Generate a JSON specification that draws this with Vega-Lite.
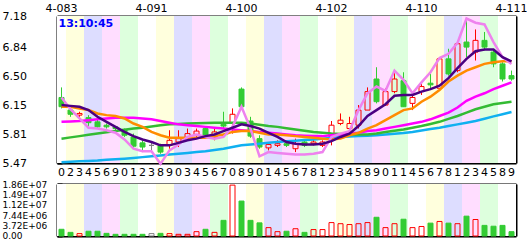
{
  "$schema": "https://vega.github.io/schema/vega-lite/v6.json",
  "background": "white",
  "padding": {"left": 2, "top": 2, "right": 0, "bottom": 0},
  "bounds": "flush",
  "spacing": 21,
  "config": {
    "font": "DejaVu Sans",
    "view": {"stroke": null},
    "axis": {"labelFont": "DejaVu Sans", "labelFontSize": 11, "labelColor": "#000000", "title": null, "zindex": 1}
  },
  "data": {"values": [
    {"d": "2002-08-30", "o": 6.25, "h": 6.37, "l": 6.12, "c": 6.14, "v": 2400000, "ma5": 6.16, "ma10": 6.14, "ma20": 5.96, "ma30": 5.76, "ma60": 5.48, "cmp": 6.25, "grp": 0},
    {"d": "2002-09-02", "o": 6.10, "h": 6.13, "l": 6.02, "c": 6.05, "v": 1300000, "ma5": 6.15, "ma10": 6.14, "ma20": 5.965, "ma30": 5.775, "ma60": 5.485, "cmp": 6.11, "grp": 1},
    {"d": "2002-09-03", "o": 6.04, "h": 6.08, "l": 6.01, "c": 6.06, "v": 850000, "ma5": 6.14, "ma10": 6.12, "ma20": 5.97, "ma30": 5.79, "ma60": 5.49, "cmp": 6.00, "grp": 1},
    {"d": "2002-09-04", "o": 6.01, "h": 6.04, "l": 5.90, "c": 5.95, "v": 1700000, "ma5": 6.10, "ma10": 6.10, "ma20": 5.98, "ma30": 5.805, "ma60": 5.495, "cmp": 5.89, "grp": 2},
    {"d": "2002-09-05", "o": 5.96, "h": 5.99, "l": 5.88, "c": 5.90, "v": 1700000, "ma5": 6.02, "ma10": 6.06, "ma20": 5.99, "ma30": 5.82, "ma60": 5.50, "cmp": 5.88, "grp": 2},
    {"d": "2002-09-06", "o": 5.92, "h": 5.94, "l": 5.88, "c": 5.90, "v": 950000, "ma5": 5.96, "ma10": 6.04, "ma20": 6.00, "ma30": 5.835, "ma60": 5.508, "cmp": 5.86, "grp": 3},
    {"d": "2002-09-09", "o": 5.90, "h": 5.91, "l": 5.86, "c": 5.88, "v": 600000, "ma5": 5.90, "ma10": 6.03, "ma20": 6.01, "ma30": 5.85, "ma60": 5.515, "cmp": 5.83, "grp": 3},
    {"d": "2002-09-10", "o": 5.87, "h": 5.88, "l": 5.78, "c": 5.80, "v": 600000, "ma5": 5.84, "ma10": 6.00, "ma20": 6.01, "ma30": 5.865, "ma60": 5.522, "cmp": 5.75, "grp": 4},
    {"d": "2002-09-11", "o": 5.78, "h": 5.82, "l": 5.64, "c": 5.67, "v": 600000, "ma5": 5.79, "ma10": 5.94, "ma20": 6.01, "ma30": 5.88, "ma60": 5.53, "cmp": 5.64, "grp": 4},
    {"d": "2002-09-12", "o": 5.71, "h": 5.74, "l": 5.60, "c": 5.66, "v": 600000, "ma5": 5.75, "ma10": 5.90, "ma20": 6.00, "ma30": 5.89, "ma60": 5.54, "cmp": 5.61, "grp": 0},
    {"d": "2002-09-13", "o": 5.68, "h": 5.72, "l": 5.62, "c": 5.68, "v": 850000, "ma5": 5.72, "ma10": 5.84, "ma20": 5.99, "ma30": 5.905, "ma60": 5.55, "cmp": 5.61, "grp": 0},
    {"d": "2002-09-18", "o": 5.68, "h": 5.70, "l": 5.58, "c": 5.60, "v": 950000, "ma5": 5.68, "ma10": 5.80, "ma20": 5.97, "ma30": 5.92, "ma60": 5.56, "cmp": 5.46, "grp": 1},
    {"d": "2002-09-19", "o": 5.68, "h": 5.86, "l": 5.64, "c": 5.74, "v": 850000, "ma5": 5.68, "ma10": 5.77, "ma20": 5.95, "ma30": 5.93, "ma60": 5.57, "cmp": 5.62, "grp": 1},
    {"d": "2002-09-20", "o": 5.72, "h": 5.86, "l": 5.66, "c": 5.76, "v": 600000, "ma5": 5.71, "ma10": 5.77, "ma20": 5.93, "ma30": 5.935, "ma60": 5.58, "cmp": 5.69, "grp": 2},
    {"d": "2002-09-23", "o": 5.77, "h": 5.88, "l": 5.74, "c": 5.82, "v": 600000, "ma5": 5.74, "ma10": 5.77, "ma20": 5.92, "ma30": 5.94, "ma60": 5.59, "cmp": 5.78, "grp": 2},
    {"d": "2002-09-24", "o": 5.81, "h": 5.88, "l": 5.78, "c": 5.85, "v": 1550000, "ma5": 5.76, "ma10": 5.77, "ma20": 5.91, "ma30": 5.943, "ma60": 5.60, "cmp": 5.81, "grp": 3},
    {"d": "2002-09-25", "o": 5.88, "h": 5.89, "l": 5.79, "c": 5.80, "v": 2400000, "ma5": 5.79, "ma10": 5.77, "ma20": 5.90, "ma30": 5.945, "ma60": 5.61, "cmp": 5.78, "grp": 3},
    {"d": "2002-09-26", "o": 5.77, "h": 5.88, "l": 5.74, "c": 5.84, "v": 1300000, "ma5": 5.81, "ma10": 5.79, "ma20": 5.89, "ma30": 5.948, "ma60": 5.625, "cmp": 5.76, "grp": 4},
    {"d": "2002-09-27", "o": 5.93, "h": 6.08, "l": 5.88, "c": 5.91, "v": 5600000, "ma5": 5.85, "ma10": 5.81, "ma20": 5.88, "ma30": 5.95, "ma60": 5.64, "cmp": 5.78, "grp": 4},
    {"d": "2002-09-30", "o": 5.94, "h": 6.12, "l": 5.82, "c": 6.05, "v": 18200000, "ma5": 5.89, "ma10": 5.84, "ma20": 5.87, "ma30": 5.95, "ma60": 5.66, "cmp": 5.90, "grp": 0},
    {"d": "2002-10-08", "o": 6.35, "h": 6.37, "l": 6.12, "c": 6.14, "v": 12500000, "ma5": 5.93, "ma10": 5.85, "ma20": 5.86, "ma30": 5.95, "ma60": 5.68, "cmp": 6.14, "grp": 0},
    {"d": "2002-10-09", "o": 5.97, "h": 6.02, "l": 5.77, "c": 5.79, "v": 5600000, "ma5": 5.91, "ma10": 5.85, "ma20": 5.85, "ma30": 5.94, "ma60": 5.69, "cmp": 5.88, "grp": 1},
    {"d": "2002-10-10", "o": 5.76, "h": 5.80, "l": 5.64, "c": 5.66, "v": 4700000, "ma5": 5.88, "ma10": 5.83, "ma20": 5.84, "ma30": 5.925, "ma60": 5.70, "cmp": 5.55, "grp": 1},
    {"d": "2002-10-11", "o": 5.65, "h": 5.72, "l": 5.62, "c": 5.69, "v": 3000000, "ma5": 5.83, "ma10": 5.81, "ma20": 5.83, "ma30": 5.91, "ma60": 5.71, "cmp": 5.60, "grp": 2},
    {"d": "2002-10-14", "o": 5.68, "h": 5.74, "l": 5.66, "c": 5.70, "v": 1550000, "ma5": 5.78, "ma10": 5.81, "ma20": 5.82, "ma30": 5.90, "ma60": 5.72, "cmp": 5.59, "grp": 2},
    {"d": "2002-10-15", "o": 5.70, "h": 5.72, "l": 5.66, "c": 5.68, "v": 1700000, "ma5": 5.72, "ma10": 5.80, "ma20": 5.81, "ma30": 5.885, "ma60": 5.728, "cmp": 5.58, "grp": 3},
    {"d": "2002-10-16", "o": 5.64, "h": 5.76, "l": 5.60, "c": 5.70, "v": 2600000, "ma5": 5.70, "ma10": 5.79, "ma20": 5.80, "ma30": 5.87, "ma60": 5.735, "cmp": 5.57, "grp": 3},
    {"d": "2002-10-17", "o": 5.72, "h": 5.74, "l": 5.66, "c": 5.68, "v": 1300000, "ma5": 5.69, "ma10": 5.78, "ma20": 5.795, "ma30": 5.855, "ma60": 5.743, "cmp": 5.57, "grp": 4},
    {"d": "2002-10-18", "o": 5.70, "h": 5.75, "l": 5.68, "c": 5.72, "v": 2300000, "ma5": 5.69, "ma10": 5.77, "ma20": 5.79, "ma30": 5.84, "ma60": 5.75, "cmp": 5.58, "grp": 4},
    {"d": "2002-10-21", "o": 5.68, "h": 5.74, "l": 5.66, "c": 5.72, "v": 2300000, "ma5": 5.70, "ma10": 5.76, "ma20": 5.79, "ma30": 5.83, "ma60": 5.76, "cmp": 5.60, "grp": 0},
    {"d": "2002-10-22", "o": 5.78, "h": 5.97, "l": 5.68, "c": 5.92, "v": 4800000, "ma5": 5.73, "ma10": 5.75, "ma20": 5.80, "ma30": 5.82, "ma60": 5.77, "cmp": 5.78, "grp": 0},
    {"d": "2002-10-23", "o": 5.94, "h": 6.06, "l": 5.92, "c": 5.98, "v": 4400000, "ma5": 5.78, "ma10": 5.76, "ma20": 5.81, "ma30": 5.815, "ma60": 5.78, "cmp": 5.82, "grp": 1},
    {"d": "2002-10-24", "o": 5.88, "h": 6.02, "l": 5.86, "c": 5.94, "v": 4100000, "ma5": 5.82, "ma10": 5.80, "ma20": 5.82, "ma30": 5.81, "ma60": 5.786, "cmp": 5.85, "grp": 1},
    {"d": "2002-10-25", "o": 5.92, "h": 6.16, "l": 5.88, "c": 6.10, "v": 4400000, "ma5": 5.91, "ma10": 5.83, "ma20": 5.83, "ma30": 5.81, "ma60": 5.79, "cmp": 6.10, "grp": 2},
    {"d": "2002-10-28", "o": 6.10, "h": 6.37, "l": 6.10, "c": 6.32, "v": 4800000, "ma5": 6.03, "ma10": 5.88, "ma20": 5.85, "ma30": 5.81, "ma60": 5.795, "cmp": 6.30, "grp": 2},
    {"d": "2002-10-29", "o": 6.47, "h": 6.61, "l": 6.18, "c": 6.20, "v": 6700000, "ma5": 6.10, "ma10": 5.92, "ma20": 5.86, "ma30": 5.82, "ma60": 5.80, "cmp": 6.38, "grp": 3},
    {"d": "2002-10-30", "o": 6.16, "h": 6.36, "l": 6.15, "c": 6.32, "v": 3000000, "ma5": 6.17, "ma10": 5.98, "ma20": 5.88, "ma30": 5.84, "ma60": 5.81, "cmp": 6.33, "grp": 3},
    {"d": "2002-10-31", "o": 6.32, "h": 6.57, "l": 6.30, "c": 6.47, "v": 4400000, "ma5": 6.27, "ma10": 6.04, "ma20": 5.90, "ma30": 5.855, "ma60": 5.818, "cmp": 6.57, "grp": 4},
    {"d": "2002-11-01", "o": 6.45, "h": 6.55, "l": 6.14, "c": 6.14, "v": 6000000, "ma5": 6.28, "ma10": 6.10, "ma20": 5.92, "ma30": 5.87, "ma60": 5.826, "cmp": 6.46, "grp": 4},
    {"d": "2002-11-04", "o": 6.18, "h": 6.28, "l": 6.10, "c": 6.25, "v": 3000000, "ma5": 6.28, "ma10": 6.12, "ma20": 5.94, "ma30": 5.89, "ma60": 5.84, "cmp": 6.30, "grp": 0},
    {"d": "2002-11-05", "o": 6.32, "h": 6.42, "l": 6.28, "c": 6.38, "v": 3400000, "ma5": 6.32, "ma10": 6.20, "ma20": 5.96, "ma30": 5.91, "ma60": 5.858, "cmp": 6.43, "grp": 0},
    {"d": "2002-11-06", "o": 6.42, "h": 6.53, "l": 6.34, "c": 6.40, "v": 4600000, "ma5": 6.35, "ma10": 6.26, "ma20": 5.99, "ma30": 5.935, "ma60": 5.874, "cmp": 6.55, "grp": 1},
    {"d": "2002-11-07", "o": 6.36, "h": 6.73, "l": 6.34, "c": 6.71, "v": 5200000, "ma5": 6.39, "ma10": 6.34, "ma20": 6.03, "ma30": 5.96, "ma60": 5.89, "cmp": 6.72, "grp": 1},
    {"d": "2002-11-08", "o": 6.71, "h": 6.83, "l": 6.51, "c": 6.53, "v": 4600000, "ma5": 6.48, "ma10": 6.44, "ma20": 6.07, "ma30": 5.995, "ma60": 5.91, "cmp": 6.77, "grp": 2},
    {"d": "2002-11-11", "o": 6.57, "h": 6.89, "l": 6.55, "c": 6.89, "v": 4400000, "ma5": 6.60, "ma10": 6.51, "ma20": 6.13, "ma30": 6.03, "ma60": 5.93, "cmp": 6.90, "grp": 2},
    {"d": "2002-11-12", "o": 6.91, "h": 7.17, "l": 6.73, "c": 6.85, "v": 7100000, "ma5": 6.71, "ma10": 6.57, "ma20": 6.21, "ma30": 6.07, "ma60": 5.95, "cmp": 7.19, "grp": 3},
    {"d": "2002-11-13", "o": 6.79, "h": 7.06, "l": 6.69, "c": 6.93, "v": 5900000, "ma5": 6.80, "ma10": 6.61, "ma20": 6.26, "ma30": 6.11, "ma60": 5.97, "cmp": 7.14, "grp": 3},
    {"d": "2002-11-14", "o": 6.93, "h": 7.03, "l": 6.81, "c": 6.85, "v": 3800000, "ma5": 6.82, "ma10": 6.65, "ma20": 6.30, "ma30": 6.14, "ma60": 5.997, "cmp": 7.12, "grp": 4},
    {"d": "2002-11-15", "o": 6.79, "h": 6.81, "l": 6.61, "c": 6.65, "v": 3500000, "ma5": 6.82, "ma10": 6.67, "ma20": 6.35, "ma30": 6.17, "ma60": 6.025, "cmp": 6.91, "grp": 4},
    {"d": "2002-11-18", "o": 6.65, "h": 6.67, "l": 6.44, "c": 6.47, "v": 3800000, "ma5": 6.73, "ma10": 6.68, "ma20": 6.39, "ma30": 6.185, "ma60": 6.05, "cmp": 6.73, "grp": 0},
    {"d": "2002-11-19", "o": 6.51, "h": 6.57, "l": 6.45, "c": 6.47, "v": 1550000, "ma5": 6.68, "ma10": 6.68, "ma20": 6.43, "ma30": 6.20, "ma60": 6.077, "cmp": 6.65, "grp": 0}
  ]},
  "vconcat": [
    {
      "width": 459,
      "height": 147,
      "resolve": {"axis": {"x": "independent", "y": "independent"}},
      "layer": [
        {
          "mark": {"type": "rect"},
          "encoding": {
            "x": {"field": "d", "type": "ordinal", "sort": null, "scale": {"paddingInner": 0, "paddingOuter": 0},
              "axis": {"orient": "top", "labelAngle": 0, "ticks": false, "grid": false, "labelOverlap": false, "labelPadding": 3,
                "domain": true, "domainColor": "#000000", "domainWidth": 2,
                "labelExpr": "round(datum.index*50) % 10 == 0 ? '4-' + substring(datum.value,5,7) + substring(datum.value,8,9) : ''"}},
            "fill": {"field": "grp", "type": "nominal", "legend": null,
              "scale": {"domain": [0, 1, 2, 3, 4], "range": ["#FFFFFF", "#FFFFDD", "#DDDDFF", "#FFDDFF", "#DDFFDD"]}}
          }
        },
        {
          "transform": [{"filter": "datum.c >= datum.o"}],
          "mark": {"type": "rule", "strokeWidth": 1},
          "encoding": {
            "x": {"field": "d", "type": "ordinal", "sort": null,
              "axis": {"orient": "bottom", "labelAngle": 0, "labelOverlap": false, "labelPadding": 8,
                "labelExpr": "substring(datum.value, 9, 10)",
                "tickSize": -5, "tickColor": "#000000", "tickWidth": 2,
                "tickOpacity": {"condition": {"test": "round(datum.index*50) % 10 == 0", "value": 1}, "value": 0},
                "grid": true, "gridColor": "#C8C8C8", "gridWidth": 1.5,
                "gridOpacity": {"condition": {"test": "round(datum.index*50) % 10 == 0", "value": 1}, "value": 0},
                "domain": true, "domainColor": "#000000", "domainWidth": 2}},
            "y": {"field": "l", "type": "quantitative", "scale": {"domain": [5.47, 7.22], "nice": false, "zero": false},
              "axis": {"orient": "left", "values": [5.47, 5.81, 6.15, 6.5, 6.84, 7.18], "format": ".2f",
                "labelAlign": "left", "labelBaseline": "middle", "labelPadding": 60, "labelOverlap": false,
                "labelOffset": {"condition": {"test": "datum.value > 7", "value": -3}, "value": 0},
                "tickSize": -5, "tickColor": "#000000", "tickWidth": 2,
                "tickOpacity": {"condition": {"test": "datum.value > 7", "value": 0}, "value": 1},
                "grid": true, "gridColor": "#C8C8C8", "gridWidth": 1.5,
                "gridOpacity": {"condition": {"test": "datum.value > 7", "value": 0}, "value": 1},
                "domain": true, "domainColor": "#000000", "domainWidth": 2}},
            "y2": {"field": "o"},
            "color": {"condition": {"test": "datum.c > datum.o", "value": "#FF0000"}, "value": "#808080"}
          }
        },
        {
          "transform": [{"filter": "datum.c >= datum.o"}],
          "mark": {"type": "rule", "strokeWidth": 1},
          "encoding": {
            "x": {"field": "d", "type": "ordinal", "sort": null, "axis": null},
            "y": {"field": "c", "type": "quantitative", "scale": {"domain": [5.47, 7.22], "nice": false, "zero": false}, "axis": null},
            "y2": {"field": "h"},
            "color": {"condition": {"test": "datum.c > datum.o", "value": "#FF0000"}, "value": "#808080"}
          }
        },
        {
          "transform": [{"filter": "datum.c < datum.o"}],
          "mark": {"type": "rule", "strokeWidth": 1, "color": "#33CC33"},
          "encoding": {
            "x": {"field": "d", "type": "ordinal", "sort": null, "axis": null},
            "y": {"field": "l", "type": "quantitative", "scale": {"domain": [5.47, 7.22], "nice": false, "zero": false}, "axis": null},
            "y2": {"field": "h"}
          }
        },
        {
          "mark": {"type": "bar", "size": 5, "strokeWidth": 1},
          "encoding": {
            "x": {"field": "d", "type": "ordinal", "sort": null, "axis": null},
            "y": {"field": "o", "type": "quantitative", "scale": {"domain": [5.47, 7.22], "nice": false, "zero": false},
              "axis": {"orient": "right", "labels": false, "ticks": false, "grid": false, "domain": true, "domainColor": "#000000", "domainWidth": 2}},
            "y2": {"field": "c"},
            "fill": {"condition": {"test": "datum.c >= datum.o", "value": "transparent"}, "value": "#33CC33"},
            "stroke": {"condition": [{"test": "datum.c > datum.o", "value": "#FF0000"}, {"test": "datum.c == datum.o", "value": "#808080"}], "value": "#33CC33"}
          }
        },
        {
          "transform": [{"fold": ["ma60", "ma30", "ma20", "ma10", "cmp", "ma5"], "as": ["k", "val"]}],
          "mark": {"type": "line", "interpolate": "linear"},
          "encoding": {
            "x": {"field": "d", "type": "ordinal", "sort": null, "axis": null},
            "y": {"field": "val", "type": "quantitative", "scale": {"domain": [5.47, 7.22], "nice": false, "zero": false}, "axis": null},
            "stroke": {"field": "k", "type": "nominal", "legend": null,
              "scale": {"domain": ["ma60", "ma30", "ma20", "ma10", "cmp", "ma5"], "range": ["#10B0F0", "#33BB33", "#FF00FF", "#FF8C00", "#EE82EE", "#4B0082"]}},
            "strokeWidth": {"field": "k", "type": "nominal", "legend": null,
              "scale": {"domain": ["ma60", "ma30", "ma20", "ma10", "cmp", "ma5"], "range": [2.5, 2.5, 2.5, 2, 2, 2.5]}}
          }
        },
        {
          "data": {"values": [{"t": "13:10:45"}]},
          "mark": {"type": "text", "align": "left", "baseline": "top", "dx": -3, "dy": 2, "fontSize": 11, "fontWeight": "bold", "font": "DejaVu Sans", "color": "#0000FF"},
          "encoding": {
            "x": {"datum": "2002-08-30", "type": "ordinal", "axis": null},
            "y": {"datum": 7.22, "type": "quantitative", "axis": null},
            "text": {"field": "t"}
          }
        }
      ]
    },
    {
      "width": 459,
      "height": 52,
      "resolve": {"axis": {"x": "independent", "y": "independent"}},
      "layer": [
        {
          "mark": {"type": "rect"},
          "encoding": {
            "x": {"field": "d", "type": "ordinal", "sort": null, "scale": {"paddingInner": 0, "paddingOuter": 0},
              "axis": {"orient": "bottom", "labels": false, "labelAngle": 0,
                "tickSize": -5, "tickColor": "#000000", "tickWidth": 2,
                "tickOpacity": {"condition": {"test": "round(datum.index*50) % 10 == 0", "value": 1}, "value": 0},
                "grid": true, "gridColor": "#C8C8C8", "gridWidth": 1.5,
                "gridOpacity": {"condition": {"test": "round(datum.index*50) % 10 == 0", "value": 1}, "value": 0},
                "domain": true, "domainColor": "#000000", "domainWidth": 2}},
            "fill": {"field": "grp", "type": "nominal", "legend": null,
              "scale": {"domain": [0, 1, 2, 3, 4], "range": ["#FFFFFF", "#FFFFDD", "#DDDDFF", "#FFDDFF", "#DDFFDD"]}}
          }
        },
        {
          "transform": [{"filter": "datum.c < datum.o"}],
          "mark": {"type": "bar", "size": 5, "strokeWidth": 1},
          "encoding": {
            "x": {"field": "d", "type": "ordinal", "sort": null,
              "axis": {"orient": "top", "labels": false, "ticks": false, "grid": false, "domain": true, "domainColor": "#000000", "domainWidth": 2}},
            "y": {"field": "v", "type": "quantitative", "scale": {"domain": [0, 18600000], "nice": false},
              "axis": {"orient": "left", "values": [0, 3720000, 7440000, 11160000, 14880000, 18600000],
                "labelExpr": "datum.value == 0 ? '0.00' : replace(format(datum.value, '.2e'), 'e+', 'E+0')",
                "labelFontSize": 9, "labelAlign": "left", "labelBaseline": "middle", "labelFlush": false, "labelPadding": 60, "labelOverlap": false,
                "labelOffset": {"condition": {"test": "datum.value == 0", "value": -1}, "value": 0},
                "tickSize": -5, "tickColor": "#000000", "tickWidth": 2,
                "grid": true, "gridColor": "#C8C8C8", "gridWidth": 1.5,
                "domain": true, "domainColor": "#000000", "domainWidth": 2}},
            "fill": {"value": "#33CC33"},
            "stroke": {"value": "#33CC33"}
          }
        },
        {
          "transform": [{"filter": "datum.c >= datum.o"}],
          "mark": {"type": "bar", "size": 5, "strokeWidth": 1},
          "encoding": {
            "x": {"field": "d", "type": "ordinal", "sort": null, "axis": null},
            "y": {"field": "v", "type": "quantitative", "scale": {"domain": [0, 18600000], "nice": false},
              "axis": {"orient": "right", "labels": false, "ticks": false, "grid": false, "domain": true, "domainColor": "#000000", "domainWidth": 2}},
            "fill": {"value": "transparent"},
            "stroke": {"condition": {"test": "datum.c > datum.o", "value": "#FF0000"}, "value": "#808080"}
          }
        }
      ]
    }
  ]
}
